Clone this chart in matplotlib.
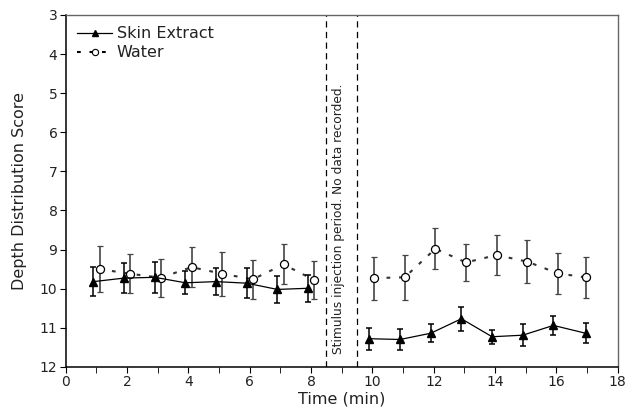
import matplotlib
matplotlib.use("Agg")
import matplotlib.pyplot as plt
from matplotlib.ticker import MultipleLocator
from matplotlib.lines import Line2D

skin_x1 = [0.9, 1.9, 2.9, 3.9, 4.9, 5.9, 6.9, 7.9]
skin_y1 = [9.82, 9.73, 9.71, 9.85, 9.82, 9.86, 10.02, 9.99]
skin_e1 = [0.38, 0.38, 0.39, 0.29, 0.34, 0.39, 0.34, 0.34]
water_x1 = [1.1, 2.1, 3.1, 4.1, 5.1, 6.1, 7.1, 8.1]
water_y1 = [9.50, 9.62, 9.72, 9.45, 9.62, 9.76, 9.38, 9.78]
water_e1 = [0.58, 0.50, 0.49, 0.52, 0.56, 0.50, 0.51, 0.48]

skin_x2 = [9.9, 10.9, 11.9, 12.9, 13.9, 14.9, 15.9, 16.95]
skin_y2 = [11.28, 11.30, 11.14, 10.77, 11.23, 11.19, 10.94, 11.14]
skin_e2 = [0.28, 0.26, 0.23, 0.31, 0.18, 0.28, 0.25, 0.25]
water_x2 = [10.05, 11.05, 12.05, 13.05, 14.05, 15.05, 16.05, 16.95]
water_y2 = [9.73, 9.71, 8.98, 9.33, 9.14, 9.31, 9.61, 9.71]
water_e2 = [0.55, 0.57, 0.52, 0.48, 0.50, 0.55, 0.52, 0.52]

gap_lines = [8.5, 9.5]
gap_text = "Stimulus injection period. No data recorded."

plt.rcParams['font.family'] = ['DejaVu Sans']
fig = plt.figure(figsize=(6.33, 4.15), dpi=100)
ax = fig.add_axes([0.104, 0.116, 0.872, 0.848])

tc = '#222222'
dotted = (0, (1.8, 4.2))
for xs, ys, es in [(water_x1, water_y1, water_e1), (water_x2, water_y2, water_e2)]:
    ax.errorbar(xs, ys, yerr=es, color='#333333', ecolor='#444444', elinewidth=1.2, capsize=2.5,
                capthick=1.2, linestyle=dotted, linewidth=1.5, marker='o', markersize=5.8,
                markerfacecolor='white', markeredgecolor='black', markeredgewidth=0.9, zorder=3)
for xs, ys, es in [(skin_x1, skin_y1, skin_e1), (skin_x2, skin_y2, skin_e2)]:
    ax.errorbar(xs, ys, yerr=es, color='black', ecolor='black', elinewidth=1.1, capsize=2.5,
                capthick=1.1, linestyle='-', linewidth=0.9, marker='^', markersize=5.5,
                markerfacecolor='black', markeredgecolor='black', zorder=4)

for gx in gap_lines:
    ax.axvline(gx, color='black', linestyle=(0, (5, 3.5)), linewidth=0.9)
ax.text(8.9, 8.2, gap_text, rotation=90, ha='center', va='center', fontsize=8.8, color=tc)

ax.set_xlim(0, 18)
ax.set_ylim(12, 3)
ax.xaxis.set_major_locator(MultipleLocator(2))
ax.xaxis.set_minor_locator(MultipleLocator(1))
ax.yaxis.set_major_locator(MultipleLocator(1))
ax.tick_params(which='both', direction='out', colors='black', labelcolor=tc, labelsize=10, pad=2)
ax.tick_params(which='major', length=4)
ax.tick_params(which='minor', length=4)
ax.set_xlabel('Time (min)', fontsize=11.5, color=tc, labelpad=2)
ax.set_ylabel('Depth Distribution Score', fontsize=11.5, color=tc, labelpad=9)
for side in ['left', 'bottom']:
    ax.spines[side].set_linewidth(1.1)
for side in ['top', 'right']:
    ax.spines[side].set_linewidth(1.0)
    ax.spines[side].set_color('#666666')

handles = [Line2D([], [], color='black', linewidth=0.9, marker='^', markersize=4.5,
                  markerfacecolor='black'),
           Line2D([], [], color='black', linestyle=dotted, linewidth=1.5, marker='o',
                  markersize=4.5, markerfacecolor='white', markeredgewidth=0.8)]
leg = ax.legend(handles, ['Skin Extract', 'Water'], loc='upper left', frameon=False,
                fontsize=11.5, handlelength=2.2, handletextpad=0.3, borderaxespad=0.4,
                labelspacing=0.25, borderpad=0.3)
for t in leg.get_texts():
    t.set_color(tc)

fig.savefig('out.png', dpi=100)
